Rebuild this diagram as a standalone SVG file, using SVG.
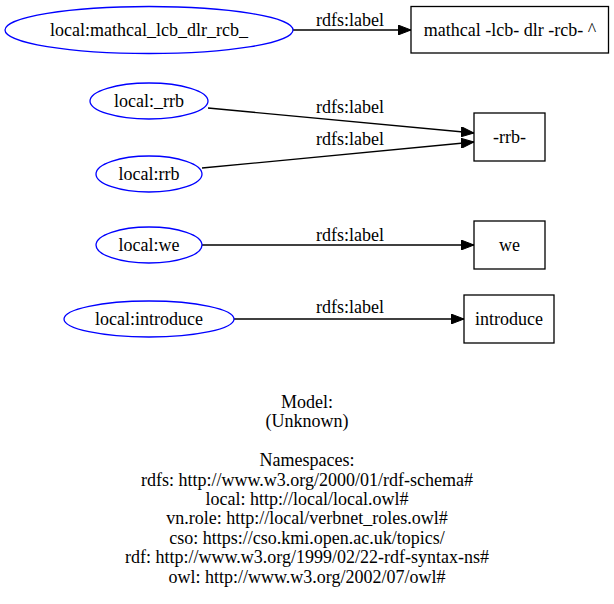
<svg xmlns="http://www.w3.org/2000/svg" width="614" height="604" viewBox="0 0 614 604">
<defs>
<marker id="arr" markerWidth="13" markerHeight="10" refX="13" refY="5" orient="auto" markerUnits="userSpaceOnUse">
<path d="M0,0 L13,5 L0,10 Z" fill="#000" stroke="#000" stroke-width="1"/>
</marker>
</defs>
<style>
text{font-family:"Liberation Serif","Times New Roman","DejaVu Serif",serif;font-size:18px;fill:#000;text-anchor:middle}
.res ellipse{fill:none;stroke:#0000ff;stroke-width:1.3}
.lit rect{fill:none;stroke:#000;stroke-width:1.3}
.edge line{stroke:#000;stroke-width:1.3;marker-end:url(#arr)}
</style>
<rect width="614" height="604" fill="#fff"/>
<g id="connectors" class="edge">
<line x1="293" y1="30" x2="411" y2="30"/>
<text x="350" y="26">rdfs:label</text>
<line x1="208" y1="108" x2="474" y2="133"/>
<text x="350" y="113">rdfs:label</text>
<line x1="202" y1="168" x2="474" y2="142"/>
<text x="350" y="145">rdfs:label</text>
<line x1="202" y1="245" x2="474" y2="245"/>
<text x="350" y="241">rdfs:label</text>
<line x1="234" y1="319" x2="464" y2="319"/>
<text x="350" y="313">rdfs:label</text>
</g>
<g id="n1" class="res"><ellipse cx="149" cy="30" rx="144" ry="23.5"/><text x="149" y="35.5">local:mathcal_lcb_dlr_rcb_</text></g>
<g id="n2" class="lit"><rect x="411" y="6.5" width="197.5" height="46.5"/><text x="510" y="35.5">mathcal -lcb- dlr -rcb- ^</text></g>
<g id="n3" class="res"><ellipse cx="149" cy="101" rx="59" ry="18"/><text x="149" y="106.5">local:_rrb</text></g>
<g id="n4" class="res"><ellipse cx="149" cy="174" rx="53" ry="18"/><text x="149" y="179.5">local:rrb</text></g>
<g id="n5" class="lit"><rect x="474" y="113" width="71" height="48"/><text x="509.5" y="142.5">-rrb-</text></g>
<g id="n6" class="res"><ellipse cx="149" cy="245" rx="53" ry="18"/><text x="149" y="250.5">local:we</text></g>
<g id="n7" class="lit"><rect x="474" y="221" width="71" height="48"/><text x="509.5" y="250.5">we</text></g>
<g id="n8" class="res"><ellipse cx="149" cy="319" rx="85" ry="18"/><text x="149" y="324.5">local:introduce</text></g>
<g id="n9" class="lit"><rect x="464" y="295" width="90" height="48"/><text x="509" y="324.5">introduce</text></g>
<g id="legend">
<text x="307" y="408">Model:</text>
<text x="307" y="427.4">(Unknown)</text>
<text x="307" y="466.2">Namespaces:</text>
<text x="307" y="485.6">rdfs: http://www.w3.org/2000/01/rdf-schema#</text>
<text x="307" y="505">local: http://local/local.owl#</text>
<text x="307" y="524.4">vn.role: http://local/verbnet_roles.owl#</text>
<text x="307" y="543.8">cso: https://cso.kmi.open.ac.uk/topics/</text>
<text x="307" y="563.2">rdf: http://www.w3.org/1999/02/22-rdf-syntax-ns#</text>
<text x="307" y="582.6">owl: http://www.w3.org/2002/07/owl#</text>
</g>
</svg>
